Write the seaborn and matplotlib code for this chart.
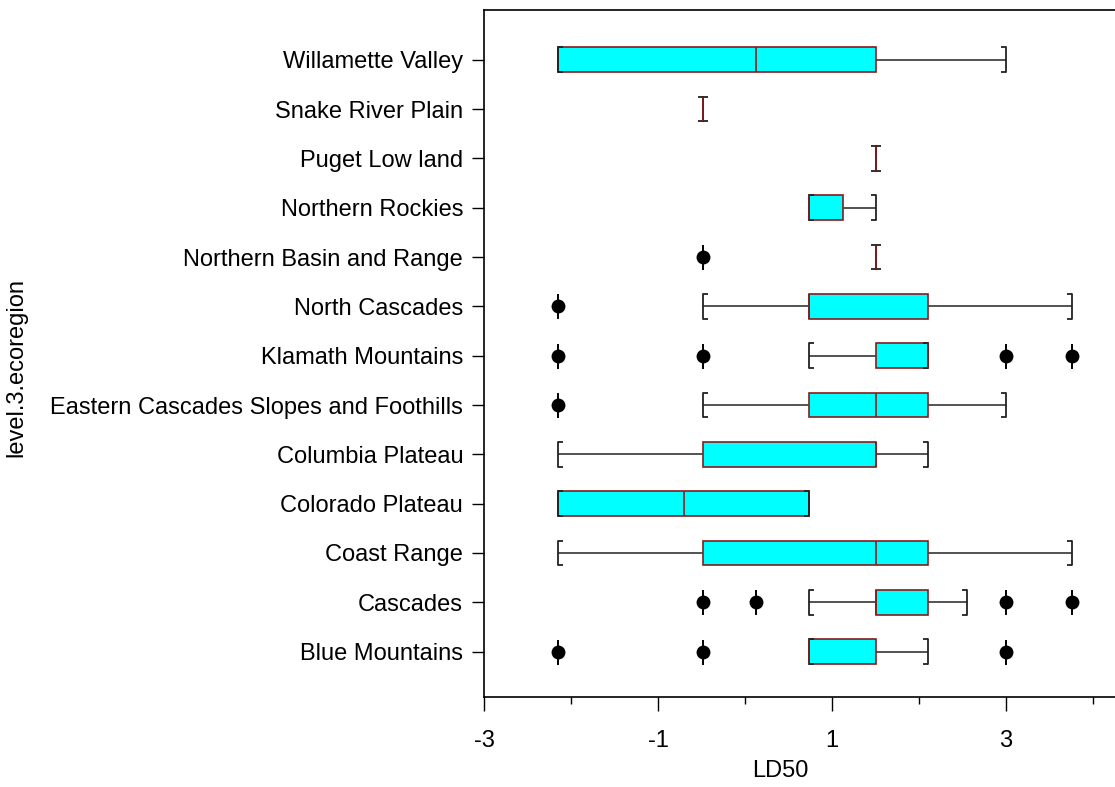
import matplotlib
matplotlib.use("Agg")
import matplotlib.pyplot as plt
from matplotlib.ticker import FixedLocator
import numpy as np
import pandas as pd
import seaborn as sns

# LD50 observations per level-3 ecoregion (listed top to bottom as displayed)
regions = [
    "Willamette Valley",
    "Snake River Plain",
    "Puget Low land",
    "Northern Rockies",
    "Northern Basin and Range",
    "North Cascades",
    "Klamath Mountains",
    "Eastern Cascades Slopes and Foothills",
    "Columbia Plateau",
    "Colorado Plateau",
    "Coast Range",
    "Cascades",
    "Blue Mountains",
]

willamette_valley = [-2.15, -2.15, -2.15, 0.13, 1.51, 1.51, 3.00]
snake_river_plain = [-0.48]
puget_lowland = [1.51]
northern_rockies = [0.74, 0.74, 1.51]
northern_basin_range = [-0.48, 1.51, 1.51, 1.51, 1.51]
north_cascades = [-2.15, -0.48, 0.74, 0.74, 0.74, 2.10, 2.10, 2.10, 3.76]
klamath_mountains = [-2.15, -0.48, 0.74, 1.51, 1.51, 2.10, 2.10, 2.10, 2.10,
                     2.10, 2.10, 3.00, 3.76]
eastern_cascades = [-2.15, -0.48, 0.74, 1.51, 1.51, 2.10, 2.10, 2.10, 3.00]
columbia_plateau = [-2.15, -0.48, 1.51, 1.51, 2.10]
colorado_plateau = [-2.15, -2.15, 0.74, 0.74]
coast_range = [-2.15, -0.48, -0.48, 1.51, 1.51, 2.10, 2.10, 2.10, 3.76]
cascades = [-0.48, 0.13, 0.74, 1.51, 1.51, 1.51, 1.51, 2.10, 2.10, 2.10,
            2.55, 3.00, 3.76]
blue_mountains = [-2.15, -0.48, 0.74, 0.74, 0.74, 1.51, 1.51, 2.10, 3.00]

region_values = [
    willamette_valley, snake_river_plain, puget_lowland, northern_rockies,
    northern_basin_range, north_cascades, klamath_mountains, eastern_cascades,
    columbia_plateau, colorado_plateau, coast_range, cascades, blue_mountains,
]

x_major = [-3, -1, 1, 3]
x_minor = [-2, 0, 2, 4]

df = pd.DataFrame(
    [(r, v) for r, vals in zip(regions, region_values) for v in vals],
    columns=["level.3.ecoregion", "LD50"],
)

sns.set_theme(style="white")
plt.rcParams["font.family"] = ["Liberation Sans", "DejaVu Sans"]
FS = 17

W, H = 1115, 787
fig = plt.figure(figsize=(W / 100, H / 100), dpi=100)
left_px, right_px, top_px, bottom_px = 484, 484 + 7.4 * 87, 10, 697
ax = fig.add_axes([left_px / W, 1 - bottom_px / H,
                   (right_px - left_px) / W, (bottom_px - top_px) / H])

common = dict(data=df, x="LD50", y="level.3.ecoregion", order=regions,
              orient="y", width=0.5, ax=ax, whis=1.5)

# vertical strokes through the outlier points
sns.boxplot(
    **common, color="#00FFFF", saturation=1, linewidth=1,
    boxprops={"visible": False},
    whiskerprops={"visible": False},
    capprops={"visible": False},
    medianprops={"visible": False},
    flierprops={"marker": "|", "markersize": 18, "markeredgewidth": 1.4,
                "markeredgecolor": "black", "markerfacecolor": "black"},
)

# main boxes with filled outlier circles
sns.boxplot(
    **common, color="#00FFFF", saturation=1, linewidth=1,
    capwidths=0.5,
    boxprops={"facecolor": "#00FFFF", "edgecolor": "#8B1A1A", "linewidth": 1.2},
    whiskerprops={"color": "#444444", "linewidth": 1.3},
    capprops={"color": "#222222", "linewidth": 1.3},
    medianprops={"color": "#8B1A1A", "linewidth": 1.2},
    flierprops={"marker": "o", "markersize": 10, "markeredgewidth": 0,
                "markerfacecolor": "black", "markeredgecolor": "black"},
)

# bracket-style caps: short hooks pointing back toward the box
main = ax.containers[-1]
for i, cap in enumerate(main.caps):
    cap.set_marker(1 if i % 2 == 0 else 0)
    cap.set_markersize(3.5)
    cap.set_markeredgewidth(1.3)
    cap.set_markeredgecolor("#222222")

ax.set_xlim(-3, 4.4)
ax.set_ylim(12.92, -1.01)
ax.xaxis.set_major_locator(FixedLocator(x_major))
ax.xaxis.set_minor_locator(FixedLocator(x_minor))
ax.set_xticklabels([str(t) for t in x_major], fontsize=FS)
ax.tick_params(axis="x", which="major", direction="out", length=10, width=1,
               color="black", bottom=True, pad=14, labelcolor="black")
ax.tick_params(axis="x", which="minor", direction="out", length=5, width=1,
               color="black", bottom=True)
ax.tick_params(axis="y", direction="out", length=9, width=1, color="black",
               left=True, labelsize=FS, pad=6, labelcolor="black")

for side in ["left", "bottom", "top"]:
    ax.spines[side].set_visible(True)
    ax.spines[side].set_color("black")
    ax.spines[side].set_linewidth(1.2)
ax.spines["right"].set_visible(False)

ax.set_xlabel("LD50", fontsize=FS, color="black")
ax.set_ylabel("level.3.ecoregion", fontsize=FS, color="black")
ax.xaxis.set_label_coords(0.46, -0.092)
ax.yaxis.set_label_coords(-0.71, 0.48)

fig.savefig("out.png", dpi=100)
